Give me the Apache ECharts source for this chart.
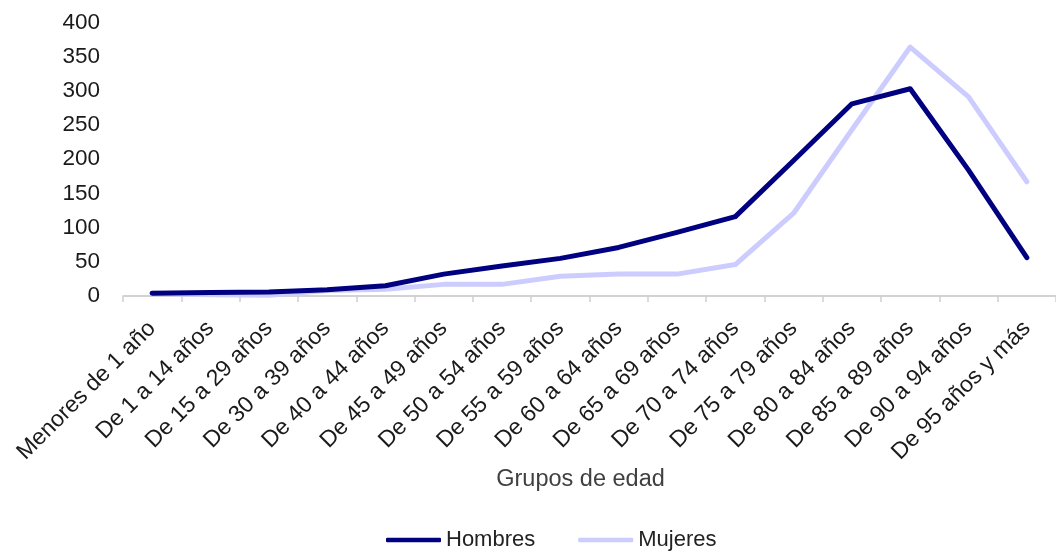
<!DOCTYPE html>
<html>
<head>
<meta charset="utf-8">
<script src="https://cdn.jsdelivr.net/npm/echarts@6/dist/echarts.min.js"></script>
<style>
html,body{margin:0;padding:0;background:#fff;}
#c{width:1056px;height:551px;}
</style>
</head>
<body>
<div id="c"></div>
<script>
var categories = ["Menores de 1 año","De 1 a 14 años","De 15 a 29 años","De 30 a 39 años","De 40 a 44 años","De 45 a 49 años","De 50 a 54 años","De 55 a 59 años","De 60 a 64 años","De 65 a 69 años","De 70 a 74 años","De 75 a 79 años","De 80 a 84 años","De 85 a 89 años","De 90 a 94 años","De 95 años y más"];
var hombres = [4, 5, 6, 9, 15, 32, 44, 55, 71, 93, 116, 198, 281, 303, 184, 56];
var mujeres = [4, 2, 1, 8, 10, 17, 17, 29, 32, 32, 46, 121, 243, 364, 291, 167];
var yTicks = [0, 50, 100, 150, 200, 250, 300, 350, 400];

var FONT = '"Liberation Sans", Arial, Helvetica, sans-serif';
var chart = echarts.init(document.getElementById('c'), null, {renderer:'canvas'});
chart.setOption({
  animation: false,
  backgroundColor: '#ffffff',
  textStyle: {fontFamily: FONT},
  grid: {left: 123, top: 22.4, height: 273.6, width: 942, containLabel: false},
  legend: {
    top: 524, left: 381,
    icon: 'roundRect',
    itemWidth: 55, itemHeight: 4.5, itemGap: 43,
    textStyle: {fontSize: 22, color: '#222', fontFamily: FONT},
    data: ['Hombres', 'Mujeres']
  },
  xAxis: {
    type: 'category',
    data: categories,
    boundaryGap: true,
    name: 'Grupos de edad',
    nameLocation: 'middle',
    nameGap: 171,
    nameTextStyle: {fontSize: 23.5, color: '#404040', fontFamily: FONT, padding: [0, 18, 0, 0]},
    axisLine: {lineStyle: {color: '#c4c4c4', width: 1.5}},
    axisTick: {show: true, length: 6, lineStyle: {color: '#d0d0d0', width: 1.5}},
    axisLabel: {rotate: 45, fontSize: 23, color: '#1a1a1a', margin: 29, interval: 0, fontFamily: FONT},
    splitLine: {show: false}
  },
  yAxis: {
    type: 'value',
    min: 0, max: 400, interval: 50,
    axisLine: {show: false},
    axisTick: {show: false},
    splitLine: {show: false},
    axisLabel: {fontSize: 22.5, color: '#1a1a1a', margin: 23, fontFamily: FONT,
      formatter: function(v){ return yTicks.indexOf(v) >= 0 ? String(v) : ''; }}
  },
  series: [
    {name: 'Hombres', type: 'line', data: hombres, symbol: 'none',
      lineStyle: {color: '#000080', width: 5, cap: 'round', join: 'round'},
      itemStyle: {color: '#000080'}, z: 3},
    {name: 'Mujeres', type: 'line', data: mujeres, symbol: 'none',
      lineStyle: {color: '#ccccff', width: 5, cap: 'round', join: 'round'},
      itemStyle: {color: '#ccccff'}, z: 2}
  ]
});
</script>
</body>
</html>
